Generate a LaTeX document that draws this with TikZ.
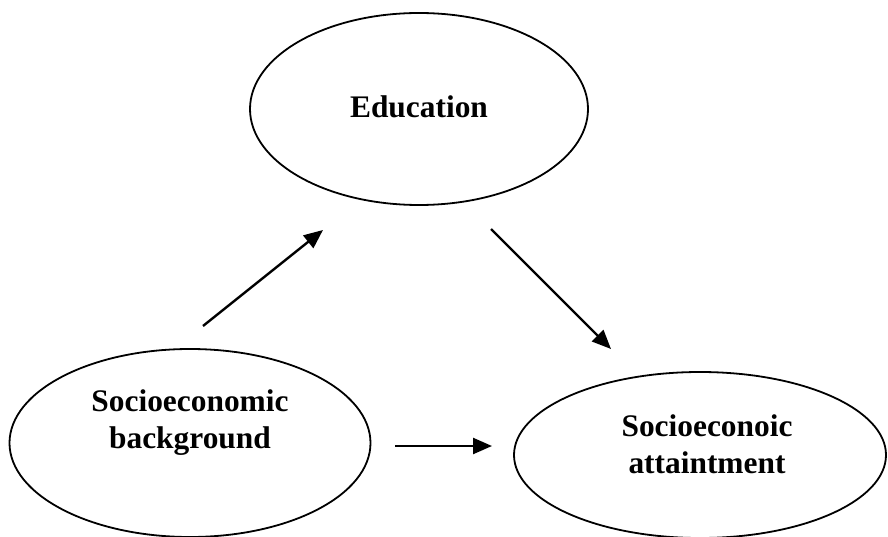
\documentclass[tikz,border=0pt]{standalone}
\usepackage{fontspec}
\setmainfont{Liberation Serif}
\usetikzlibrary{shapes.geometric,arrows.meta}
\begin{document}
\begin{tikzpicture}[x=1pt,y=-1pt,
  oval/.style={draw,ellipse,line width=1.8pt,inner sep=0pt},
  lbl/.style={font=\fontsize{31.4}{37}\selectfont\bfseries,align=center,inner sep=0pt},
  arr/.style={line width=2.4pt,-{Triangle[length=19pt,width=16pt]}}]
\useasboundingbox (0,0) rectangle (888,537);
\node[oval,minimum width=338pt,minimum height=192pt] (edu) at (419,109) {};
\node[oval,minimum width=361pt,minimum height=188pt] (bg) at (190,443) {};
\node[oval,minimum width=372pt,minimum height=166pt] (att) at (700,455) {};
\node[lbl] (edut) at (419,107) {Education};
\node[lbl] (bgt) at (190,423) {Socioeconomic\\background};
\node[lbl] (attt) at (707,444) {Socioeconoic\\attaintment};
\coordinate (a1s) at (203,326);
\coordinate (a1e) at (323,230);
\coordinate (a2s) at (491,229);
\coordinate (a2e) at (611,349);
\coordinate (a3s) at (395,446);
\coordinate (a3e) at (492,446);
\draw[arr] (a1s) -- (a1e);
\draw[arr] (a2s) -- (a2e);
\draw[arr] (a3s) -- (a3e);
\end{tikzpicture}
\end{document}
